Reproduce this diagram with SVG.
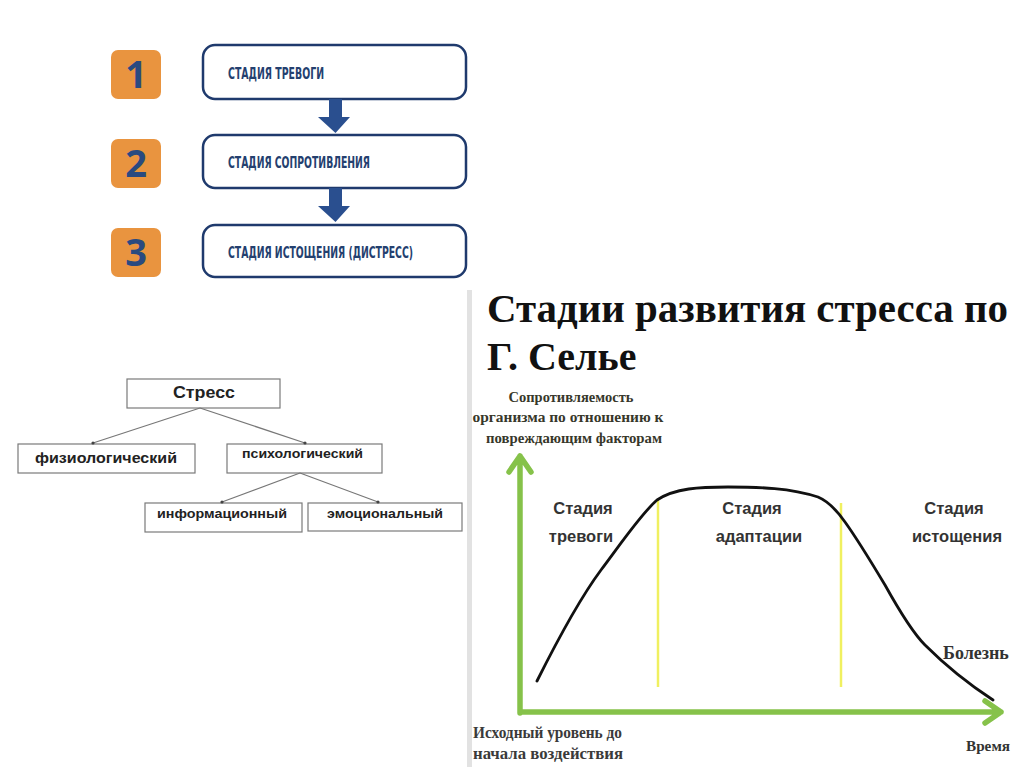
<svg xmlns="http://www.w3.org/2000/svg" width="1024" height="767" viewBox="0 0 1024 767">
<defs>
<style>
.obox{fill:#e9943f;}
.digit{font-family:"Open Sans","DejaVu Sans",sans-serif;font-weight:bold;font-size:38px;fill:#2a4a80;text-anchor:middle;}
.sbox{fill:#fff;stroke:#1f3a6d;stroke-width:2.5;}
.stxt{font-family:"DejaVu Sans Condensed","Liberation Sans",sans-serif;font-weight:bold;font-size:16px;fill:#24406f;}
.tbox{fill:#fff;stroke:#7a7a7a;stroke-width:1.2;}
.ttxt{font-family:"Liberation Sans",Arial,sans-serif;font-weight:bold;font-size:14px;fill:#222;}
.tline{stroke:#777;stroke-width:1.2;fill:none;marker-end:url(#dot);}
.farrow{fill:#2a4f8f;}
.green{stroke:#86c24a;stroke-width:5.5;fill:none;stroke-linecap:round;stroke-linejoin:round;}
.yel{stroke:#f0f060;stroke-width:2.5;}
.serif{font-family:"Liberation Serif","Times New Roman",serif;font-weight:bold;}
.stage{font-family:"Liberation Sans",Arial,sans-serif;font-weight:bold;font-size:16.5px;fill:#333;text-anchor:middle;}
</style>
<marker id="dot" markerWidth="4" markerHeight="4" refX="2" refY="2" markerUnits="userSpaceOnUse"><circle cx="2" cy="2" r="1.6" fill="#444"/></marker>
</defs>
<rect width="1024" height="767" fill="#fff"/>

<!-- Flow stages -->
<g id="num1"><rect class="obox" x="111" y="50" width="50" height="49" rx="7"/><text class="digit" x="136" y="88">1</text></g>
<g id="num2"><rect class="obox" x="111" y="139" width="50" height="49" rx="7"/><text class="digit" x="136" y="177">2</text></g>
<g id="num3"><rect class="obox" x="111" y="228" width="50" height="49" rx="7"/><text class="digit" x="136" y="266">3</text></g>

<g id="stage1"><rect class="sbox" x="203" y="45" width="263" height="54" rx="12"/><text class="stxt" x="228" y="79" textLength="96" lengthAdjust="spacingAndGlyphs">СТАДИЯ ТРЕВОГИ</text></g>
<g id="stage2"><rect class="sbox" x="203" y="135" width="263" height="53" rx="12"/><text class="stxt" x="228" y="168" textLength="142" lengthAdjust="spacingAndGlyphs">СТАДИЯ СОПРОТИВЛЕНИЯ</text></g>
<g id="stage3"><rect class="sbox" x="203" y="225" width="263" height="52" rx="12"/><text class="stxt" x="228" y="258" textLength="185" lengthAdjust="spacingAndGlyphs">СТАДИЯ ИСТОЩЕНИЯ (ДИСТРЕСС)</text></g>

<!-- Tree -->
<g id="stress"><rect class="tbox" x="127" y="379" width="153" height="29"/><text class="ttxt" x="173" y="398" style="font-size:16.5px" textLength="62" lengthAdjust="spacingAndGlyphs">Стресс</text></g>
<g id="phys"><rect class="tbox" x="18" y="444" width="177" height="29"/><text class="ttxt" x="35" y="463" textLength="142" lengthAdjust="spacingAndGlyphs">физиологический</text></g>
<g id="psych"><rect class="tbox" x="227" y="444" width="155" height="29"/><text class="ttxt" x="242" y="458" style="font-size:13px" textLength="121" lengthAdjust="spacingAndGlyphs">психологический</text></g>
<g id="info"><rect class="tbox" x="145" y="503" width="157" height="29"/><text class="ttxt" x="157" y="518" style="font-size:13px" textLength="130" lengthAdjust="spacingAndGlyphs">информационный</text></g>
<g id="emo"><rect class="tbox" x="308" y="503" width="154" height="28"/><text class="ttxt" x="327" y="518" style="font-size:13px" textLength="116" lengthAdjust="spacingAndGlyphs">эмоциональный</text></g>

<!-- Connectors -->
<g id="connectors">
<path class="farrow" d="M329,99 H342 V117 H350 L335.5,133 L318,117 H329 Z"/>
<path class="farrow" d="M329,188 H342 V206 H350 L335.5,222 L318,206 H329 Z"/>
<line class="tline" x1="200" y1="408" x2="93" y2="443"/>
<line class="tline" x1="200" y1="408" x2="305" y2="443"/>
<line class="tline" x1="300" y1="473" x2="222" y2="502"/>
<line class="tline" x1="300" y1="473" x2="378" y2="502"/>
</g>

<!-- Right panel: Selye chart -->
<g id="selye">
<rect x="467" y="290" width="5" height="477" fill="#e2e2e2"/>
<text class="serif" x="487" y="322" font-size="40" fill="#111" textLength="521" lengthAdjust="spacingAndGlyphs">Стадии развития стресса по</text>
<text class="serif" x="487" y="370" font-size="40" fill="#111">Г. Селье</text>
<g class="serif" font-size="14.5" fill="#37372a" text-anchor="middle">
<text x="571" y="402">Сопротивляемость</text>
<text x="568" y="422" textLength="191" lengthAdjust="spacingAndGlyphs">организма по отношению к</text>
<text x="574" y="443" textLength="176" lengthAdjust="spacingAndGlyphs">повреждающим факторам</text>
</g>
<line class="yel" x1="658" y1="500" x2="658" y2="687"/>
<line class="yel" x1="841" y1="503" x2="841" y2="687"/>
<path class="green" d="M520,713 V456 M509,472 L520,456 L531,472 M520,712 H1001 M985,701 L1001,712 L985,723"/>
<path d="M537,681 C550,655 575,605 601,570 C620,545 640,515 657,500 C675,488 700,487 728,487 C760,487 790,488 818,497 C830,502 838,512 845,522 C858,540 870,560 885,585 C900,612 912,632 925,645 C945,665 970,685 993,700" fill="none" stroke="#111" stroke-width="2.8" stroke-linecap="round"/>
<text class="stage" x="583" y="514">Стадия</text>
<text class="stage" x="581" y="542">тревоги</text>
<text class="stage" x="752" y="514">Стадия</text>
<text class="stage" x="759" y="542">адаптации</text>
<text class="stage" x="954" y="514">Стадия</text>
<text class="stage" x="957" y="542">истощения</text>
<text class="serif" x="943" y="659" font-size="18" fill="#333">Болезнь</text>
<text class="serif" x="473" y="738" font-size="16" fill="#3a3a3a" textLength="149" lengthAdjust="spacingAndGlyphs">Исходный уровень до</text>
<text class="serif" x="473" y="759" font-size="16" fill="#3a3a3a" textLength="150" lengthAdjust="spacingAndGlyphs">начала воздействия</text>
<text class="serif" x="966" y="751" font-size="14.5" fill="#333" textLength="44" lengthAdjust="spacingAndGlyphs">Время</text>
</g>
</svg>
